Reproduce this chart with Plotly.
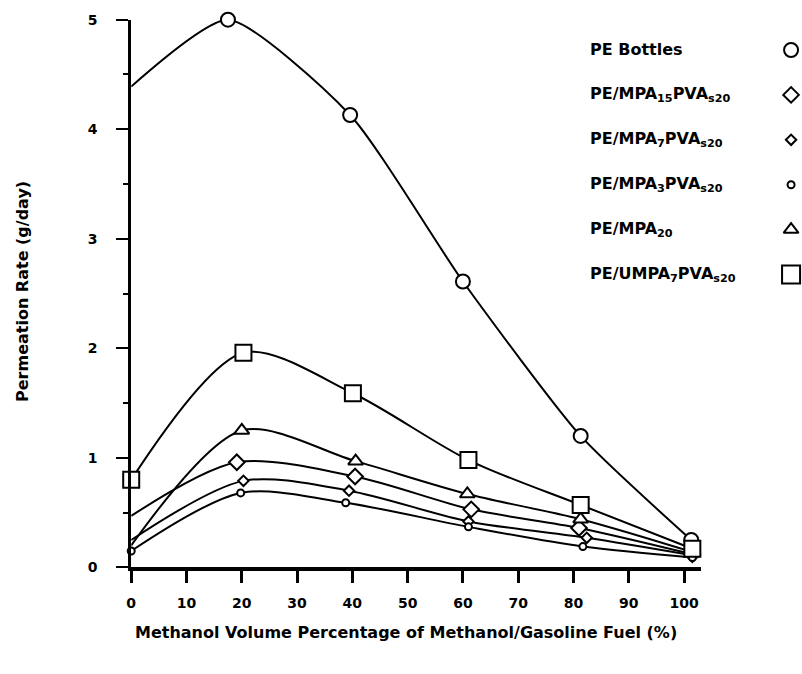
import plotly.graph_objects as go

W, H = 802, 674

# ---- data ----
series_names = [
    "PE Bottles",
    "PE/MPA<sub>15</sub>PVA<sub>s20</sub>",
    "PE/MPA<sub>7</sub>PVA<sub>s20</sub>",
    "PE/MPA<sub>3</sub>PVA<sub>s20</sub>",
    "PE/MPA<sub>20</sub>",
    "PE/UMPA<sub>7</sub>PVA<sub>s20</sub>",
]

x_pe = [0, 17.5, 39.6, 60.0, 81.3, 101.3]
y_pe = [4.39, 5.00, 4.13, 2.61, 1.20, 0.25]

x_mpa15 = [0, 19.1, 40.5, 61.5, 81.0, 101.5]
y_mpa15 = [0.47, 0.96, 0.83, 0.53, 0.36, 0.12]

x_mpa7 = [0, 20.3, 39.4, 61.0, 82.4, 101.5]
y_mpa7 = [0.25, 0.79, 0.70, 0.42, 0.27, 0.11]

x_mpa3 = [0, 19.8, 38.8, 61.0, 81.7, 101.5]
y_mpa3 = [0.15, 0.68, 0.59, 0.37, 0.19, 0.09]

x_mpa20 = [0, 20.0, 40.6, 60.8, 81.3, 101.5]
y_mpa20 = [0.20, 1.25, 0.97, 0.67, 0.44, 0.14]

x_umpa = [0, 20.3, 40.1, 61.0, 81.3, 101.5]
y_umpa = [0.80, 1.96, 1.59, 0.98, 0.57, 0.17]

x_ticks = [0, 10, 20, 30, 40, 50, 60, 70, 80, 90, 100]
y_ticks = [0, 1, 2, 3, 4, 5]
y_minor = [0.5, 1.5, 2.5, 3.5, 4.5]

# ---- styles ----
symbols = ["circle", "diamond", "diamond", "circle", "triangle-up", "square"]
sizes = [14, 12, 8, 7, 13, 16]
smooth = [0.6, 0.85, 0.85, 0.85, 0.85, 0.85]
show_at_zero = [False, False, False, True, False, True]

data = [
    (x_pe, y_pe), (x_mpa15, y_mpa15), (x_mpa7, y_mpa7),
    (x_mpa3, y_mpa3), (x_mpa20, y_mpa20), (x_umpa, y_umpa),
]

fig = go.Figure()

# lines first
for i, (xs, ys) in enumerate(data):
    fig.add_trace(go.Scatter(
        x=xs, y=ys, mode="lines", xaxis="x", yaxis="y",
        line=dict(color="black", width=2, shape="spline", smoothing=smooth[i]),
        cliponaxis=False, showlegend=False, hoverinfo="skip",
    ))
# markers on top
for i, (xs, ys) in enumerate(data):
    start = 0 if show_at_zero[i] else 1
    fig.add_trace(go.Scatter(
        x=xs[start:], y=ys[start:], mode="markers", xaxis="x", yaxis="y",
        marker=dict(symbol=symbols[i], size=sizes[i], color="#ffffff", opacity=1,
                    line=dict(color="#000000", width=2)),
        cliponaxis=False, showlegend=False, hoverinfo="x+y",
    ))

# ---- custom legend (text left, symbol right) ----
row0, row_step = 43, 46
leg_text_x, leg_sym_x = 587, 791
legfont = dict(family="DejaVu Sans", size=16, color="black", weight="bold")
for i, name in enumerate(series_names):
    ry = row0 + row_step * i
    fig.add_annotation(
        x=leg_text_x / W, y=1 - ry / H, xref="paper", yref="paper",
        text=name, showarrow=False, xanchor="left", yanchor="middle",
        font=legfont,
    )
    fig.add_trace(go.Scatter(
        x=[leg_sym_x], y=[ry], xaxis="x2", yaxis="y2", mode="markers",
        marker=dict(symbol=symbols[i], size=sizes[i] + (2 if i == 5 else 0),
                    color="white", line=dict(color="black", width=2)),
        showlegend=False, hoverinfo="skip", cliponaxis=False,
    ))

tickfont = dict(family="DejaVu Sans", size=14, color="black", weight="bold")
titlefont = dict(family="DejaVu Sans", size=16, color="black", weight="bold")

x0px, x1px = 127, 700
y0px, y1px = 573, 12

fig.update_layout(
    width=W, height=H,
    margin=dict(l=0, r=0, t=0, b=0),
    paper_bgcolor="white", plot_bgcolor="rgba(0,0,0,0)",
    xaxis=dict(
        domain=[x0px / W, x1px / W], range=[0, 103],
        showline=True, linewidth=4, linecolor="black",
        ticks="outside", ticklen=12, tickwidth=3, tickcolor="black",
        tickvals=x_ticks, ticktext=[str(v) for v in x_ticks],
        tickfont=tickfont, showgrid=False, zeroline=False, anchor="y",
        ticklabelstandoff=8,
    ),
    yaxis=dict(
        domain=[1 - y0px / H, 1 - y1px / H], range=[0, 5],
        showline=True, linewidth=3, linecolor="black",
        ticks="outside", ticklen=12, tickwidth=2, tickcolor="black",
        tickvals=y_ticks, ticktext=[str(v) for v in y_ticks],
        tickfont=tickfont, showgrid=False, zeroline=False, anchor="x",
        ticklabelstandoff=16,
        minor=dict(tickvals=y_minor, ticks="outside", ticklen=5, tickwidth=2, tickcolor="black"),
    ),
    xaxis2=dict(domain=[0, 1], range=[0, W], visible=False, anchor="y2",
                showgrid=False, zeroline=False),
    yaxis2=dict(domain=[0, 1], range=[H, 0], visible=False, anchor="x2",
                showgrid=False, zeroline=False),
)

fig.add_annotation(
    x=404 / W, y=1 - 640 / H, xref="paper", yref="paper",
    text="Methanol Volume Percentage of Methanol/Gasoline Fuel (%)",
    showarrow=False, xanchor="center", yanchor="middle", font=titlefont,
)
fig.add_annotation(
    x=17 / W, y=1 - 290 / H, xref="paper", yref="paper",
    text="Permeation Rate (g/day)", textangle=-90,
    showarrow=False, xanchor="center", yanchor="middle", font=titlefont,
)

fig.write_html("out.html")
